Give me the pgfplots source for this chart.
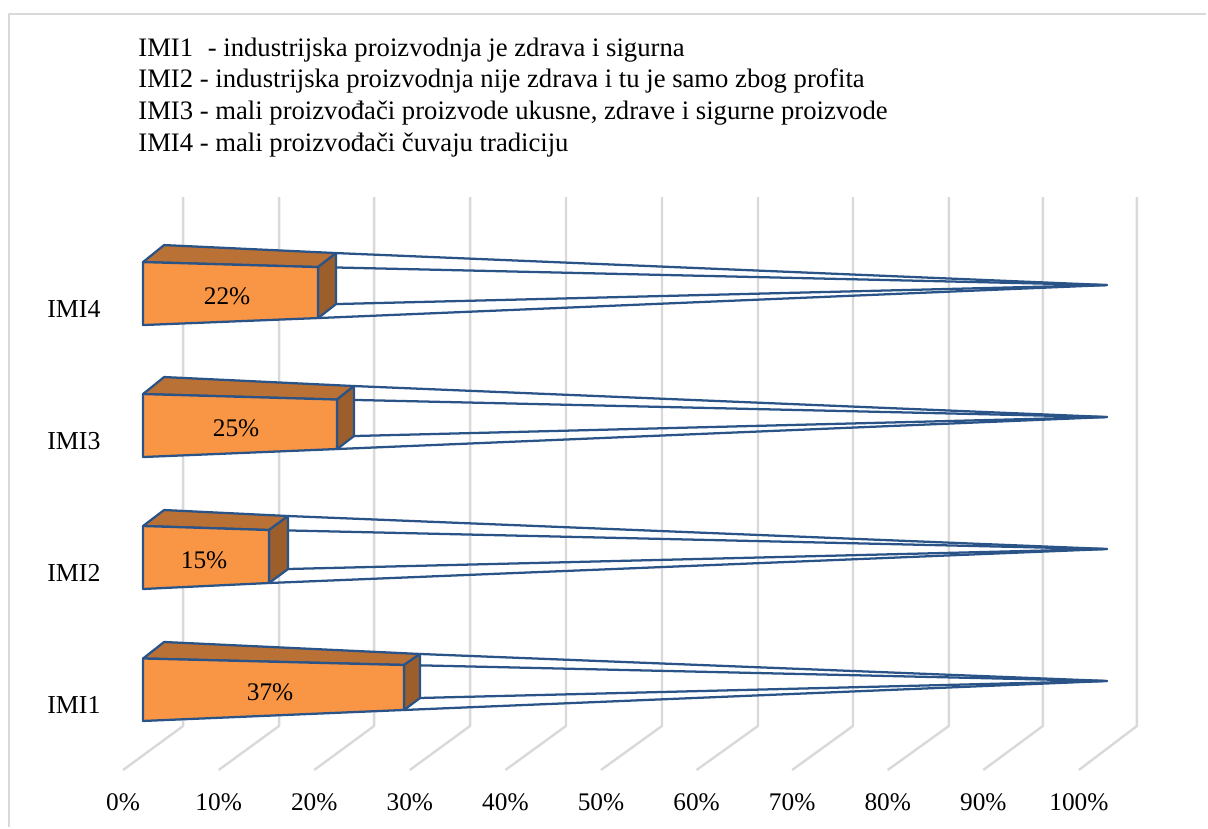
\documentclass[border=0pt]{standalone}
\usepackage{pgfplots}
\usepackage{fontspec}
\setmainfont{Liberation Serif}
\pgfplotsset{compat=1.18}
\definecolor{gridc}{HTML}{D9D9D9}
\definecolor{wire}{HTML}{2A5488}
\definecolor{front}{HTML}{F99646}
\definecolor{topf}{HTML}{BA7136}
\definecolor{side}{HTML}{9C5F2C}
\newcommand{\fs}{\fontsize{19pt}{22pt}\selectfont}
\newcommand{\fy}{\fontsize{19.4pt}{22pt}\selectfont}
\newcommand{\ft}{\fontsize{20pt}{23pt}\selectfont}
\begin{document}
\begin{tikzpicture}
\begin{axis}[
  scale only axis, width=906pt, height=621pt,
  xmin=-12.866, xmax=113.494, ymin=0, ymax=828,
  axis line style={draw=none},
  clip=false,
  major tick length=0pt,
  xtick={0,10,20,30,40,50,60,70,80,90,100},
  xticklabels={0\%,10\%,20\%,30\%,40\%,50\%,60\%,70\%,80\%,90\%,100\%},
  x tick label style={anchor=center, yshift=19.5pt, font=\fs},
  ytick={124,256,388,520},
  yticklabels={IMI1,IMI2,IMI3,IMI4},
  y tick label style={anchor=west, xshift=31.9pt, yshift=-0.7pt, font=\fy},
  every axis plot/.append style={line join=round},
]
% frame
\addplot[gridc, line width=1.8pt, forget plot] coordinates {(-11.92,1) (-11.92,814) (113.3,814)};
% gridlines
\addplot[gridc, line width=1.8pt, unbounded coords=jump, forget plot] table[row sep=\\] {
x y\\
0 58\\ 6.28 102\\ 6.28 631\\ nan nan\\
10 58\\ 16.32 102\\ 16.32 631\\ nan nan\\
20 58\\ 26.26 102\\ 26.26 631\\ nan nan\\
30 58\\ 36.30 102\\ 36.30 631\\ nan nan\\
40 58\\ 46.34 102\\ 46.34 631\\ nan nan\\
50 58\\ 56.38 102\\ 56.38 631\\ nan nan\\
60 58\\ 66.42 102\\ 66.42 631\\ nan nan\\
70 58\\ 76.36 102\\ 76.36 631\\ nan nan\\
80 58\\ 86.40 102\\ 86.40 631\\ nan nan\\
90 58\\ 96.23 102\\ 96.23 631\\ nan nan\\
100 58\\ 106.07 102\\ 106.07 631\\
};
% IMI4
\addplot[wire, line width=1.7pt] coordinates {(22.28,575) (102.93,543) (22.28,524)};
\addplot[wire, line width=1.7pt] coordinates {(20.40,561) (102.93,543) (20.40,510)};
\addplot[fill=topf, draw=wire, line width=1.7pt] coordinates {(2.09,566) (4.29,583) (22.28,575) (20.40,561)} --cycle;
\addplot[fill=side, draw=wire, line width=1.7pt] coordinates {(20.40,561) (22.28,575) (22.28,524) (20.40,510)} --cycle;
\addplot[fill=front, draw=wire, line width=1.7pt] coordinates {(2.09,566) (20.40,561) (20.40,510) (2.09,503)} --cycle;
% IMI3
\addplot[wire, line width=1.7pt] coordinates {(24.16,442) (102.93,411) (24.16,392)};
\addplot[wire, line width=1.7pt] coordinates {(22.38,428.5) (102.93,411) (22.38,379)};
\addplot[fill=topf, draw=wire, line width=1.7pt] coordinates {(2.09,434) (4.29,451) (24.16,442) (22.38,428.5)} --cycle;
\addplot[fill=side, draw=wire, line width=1.7pt] coordinates {(22.38,428.5) (24.16,442) (24.16,392) (22.38,379)} --cycle;
\addplot[fill=front, draw=wire, line width=1.7pt] coordinates {(2.09,434) (22.38,428.5) (22.38,379) (2.09,371)} --cycle;
% IMI2
\addplot[wire, line width=1.7pt] coordinates {(17.26,312) (102.93,279) (17.26,259)};
\addplot[wire, line width=1.7pt] coordinates {(15.27,298) (102.93,279) (15.27,245)};
\addplot[fill=topf, draw=wire, line width=1.7pt] coordinates {(2.09,302) (4.29,318) (17.26,312) (15.27,298)} --cycle;
\addplot[fill=side, draw=wire, line width=1.7pt] coordinates {(15.27,298) (17.26,312) (17.26,259) (15.27,245)} --cycle;
\addplot[fill=front, draw=wire, line width=1.7pt] coordinates {(2.09,302) (15.27,298) (15.27,245) (2.09,239)} --cycle;
% IMI1
\addplot[wire, line width=1.7pt] coordinates {(31.07,174) (102.93,147) (31.07,130)};
\addplot[wire, line width=1.7pt] coordinates {(29.39,163) (102.93,147) (29.39,118)};
\addplot[fill=topf, draw=wire, line width=1.7pt] coordinates {(2.09,169.5) (4.29,186) (31.07,174) (29.39,163)} --cycle;
\addplot[fill=side, draw=wire, line width=1.7pt] coordinates {(29.39,163) (31.07,174) (31.07,130) (29.39,118)} --cycle;
\addplot[fill=front, draw=wire, line width=1.7pt] coordinates {(2.09,169.5) (29.39,163) (29.39,118) (2.09,107)} --cycle;
% value labels
\node[font=\fs] at (axis cs:10.88,532) {22\%};
\node[font=\fs] at (axis cs:11.82,400) {25\%};
\node[font=\fs] at (axis cs:8.47,268) {15\%};
\node[font=\fs] at (axis cs:15.38,136) {37\%};
% title lines
\node[font=\ft, anchor=base west, inner sep=0pt] at (axis cs:1.57,772) {IMI1\hspace{0.55em}- industrijska proizvodnja je zdrava i sigurna};
\node[font=\ft, anchor=base west, inner sep=0pt] at (axis cs:1.57,740.5) {IMI2 - industrijska proizvodnja nije zdrava i tu je samo zbog profita};
\node[font=\ft, anchor=base west, inner sep=0pt] at (axis cs:1.57,709) {IMI3 - mali proizvođači proizvode ukusne, zdrave i sigurne proizvode};
\node[font=\ft, anchor=base west, inner sep=0pt] at (axis cs:1.57,677) {IMI4 - mali proizvođači čuvaju tradiciju};
\end{axis}
\end{tikzpicture}
\end{document}
